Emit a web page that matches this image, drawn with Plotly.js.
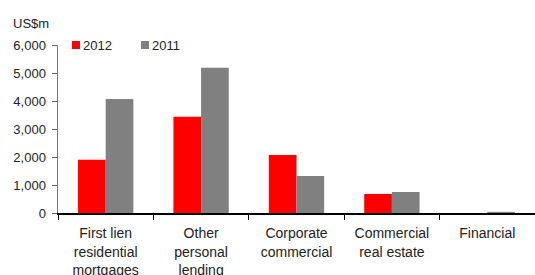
<!DOCTYPE html>
<html>
<head>
<meta charset="utf-8">
<script src="https://cdn.plot.ly/plotly-3.0.1.min.js"></script>
<style>html,body{margin:0;padding:0;background:#fff;}#chart{width:535px;height:275px;}</style>
</head>
<body>
<div id="chart"></div>
<script>
var categories = ["First lien<br>residential<br>mortgages", "Other<br>personal<br>lending", "Corporate<br>commercial", "Commercial<br>real estate", "Financial"];
var values2012 = [1900, 3440, 2070, 680, 0];
var values2011 = [4070, 5190, 1320, 750, 40];
var seriesNames = ["2012", "2011"];
var seriesColors = ["#ff0000", "#808080"];
var unitLabel = "US$m";

var fam = "Liberation Sans, Arial, sans-serif";
var font = {family: fam, size: 13, color: "#222"};
var xfont = {family: fam, size: 14, color: "#222"};
var seriesValues = [values2012, values2011];
var traces = seriesNames.map(function (n, i) {
  return {type: "bar", name: n, x: categories, y: seriesValues[i], marker: {color: seriesColors[i]}};
});

// legend drawn as small squares + text (pixel layout helpers)
var plotL = 58, plotR = 535, plotT = 45, plotB = 213;
function px(x) { return (x - plotL) / (plotR - plotL); }
function py(y) { return (plotB - y) / (plotB - plotT); }
var legendX = [72, 141];
var shapes = [], annotations = [];
seriesNames.forEach(function (n, i) {
  shapes.push({type: "rect", xref: "paper", yref: "paper", x0: px(legendX[i]), x1: px(legendX[i] + 8),
               y0: py(49), y1: py(41), fillcolor: seriesColors[i], line: {width: 0}});
  annotations.push({text: n, xref: "paper", yref: "paper", x: px(legendX[i] + 9), y: py(45),
                    xanchor: "left", yanchor: "middle", showarrow: false, font: font});
});
annotations.push({text: unitLabel, xref: "paper", yref: "paper", x: px(11), y: py(23),
                  xanchor: "left", yanchor: "middle", showarrow: false, font: font});

var layout = {
  width: 535, height: 275,
  margin: {l: 58, r: 0, t: 45, b: 62},
  paper_bgcolor: "#fff", plot_bgcolor: "#fff",
  font: font,
  barmode: "group", bargap: 0.42, bargroupgap: 0,
  showlegend: false,
  xaxis: {type: "category", range: [-0.5, 4.5], tickson: "boundaries", ticks: "outside", ticklen: 5, tickcolor: "#000",
          showline: true, linecolor: "#000", linewidth: 1.5, showgrid: false, zeroline: false, tickfont: xfont,
          ticklabelstandoff: 7, fixedrange: true},
  yaxis: {range: [0, 6000], dtick: 1000, tickformat: ",", ticks: "outside", ticklen: 5, tickcolor: "#666",
          showline: true, linecolor: "#777", linewidth: 1.5, showgrid: false, zeroline: false, tickfont: font,
          ticklabelstandoff: 3, fixedrange: true},
  shapes: shapes,
  annotations: annotations
};
Plotly.newPlot("chart", traces, layout, {displayModeBar: false, staticPlot: true});
</script>
</body>
</html>
